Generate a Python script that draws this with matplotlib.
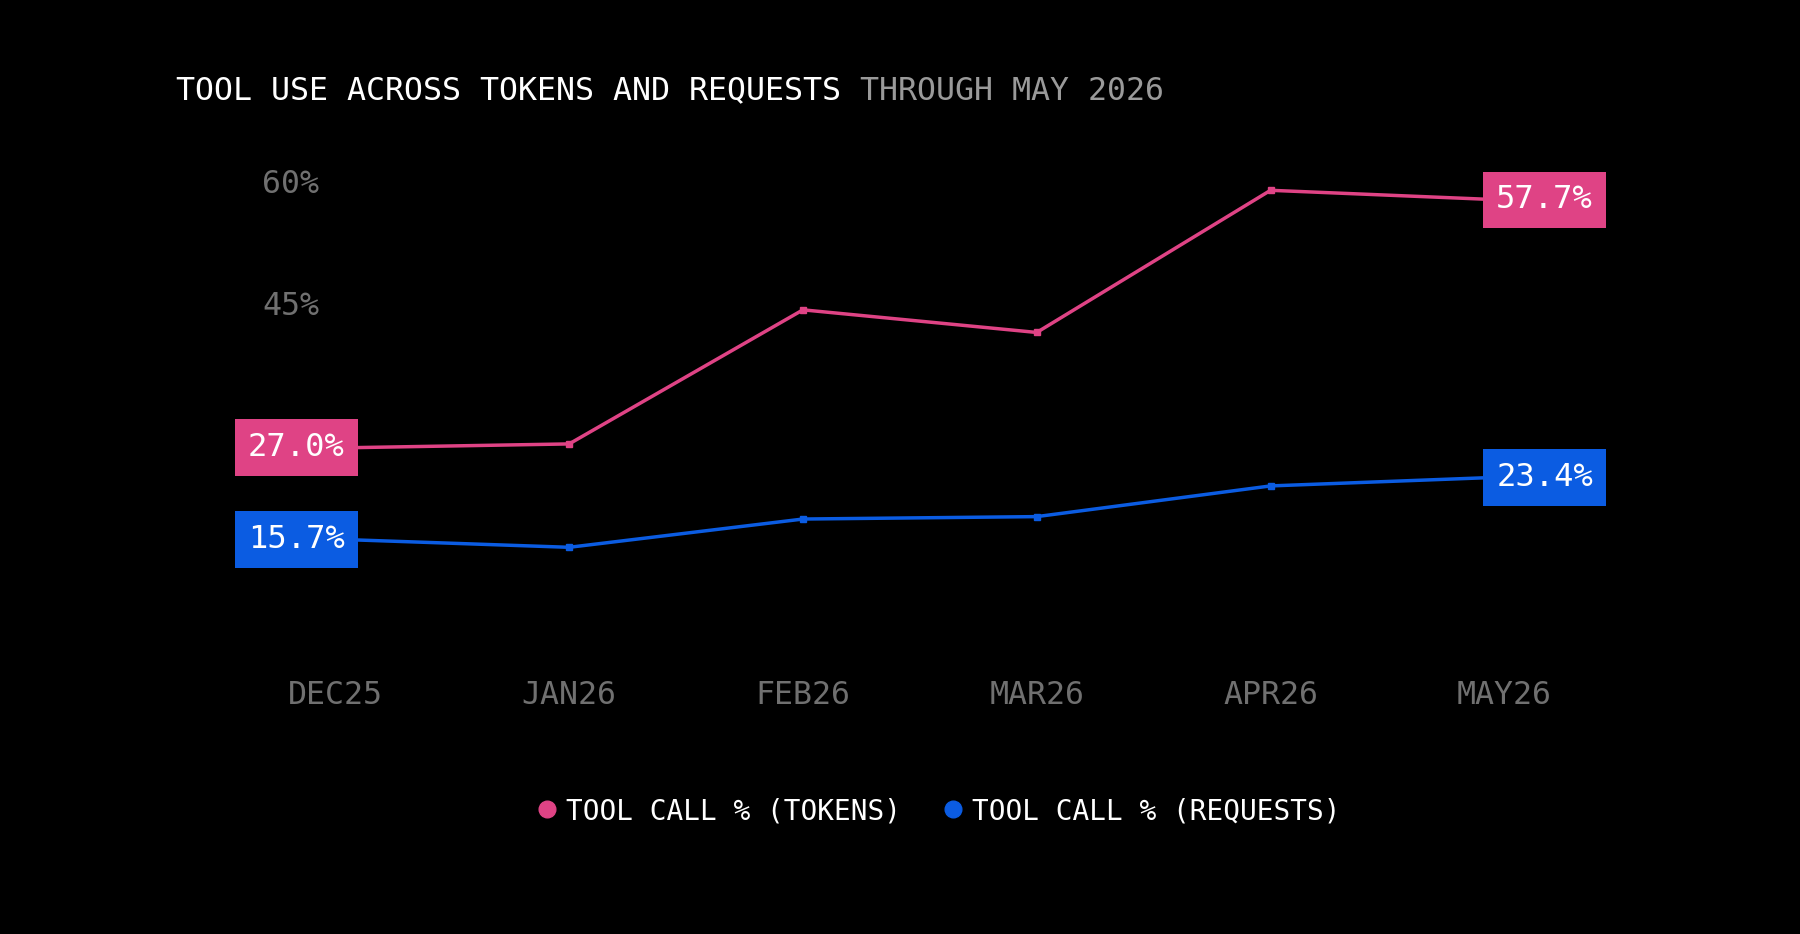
import numpy as np
from matplotlib import pyplot as plt
from matplotlib.lines import Line2D

months = ['DEC25', 'JAN26', 'FEB26', 'MAR26', 'APR26', 'MAY26']
tokens = [27.0, 27.5, 44.1, 41.3, 58.9, 57.7]
requests = [15.7, 14.7, 18.2, 18.5, 22.3, 23.4]
yticks = [45, 60]

pink = '#DF4385'
blue = '#0B5CE2'
grey = '#707070'
mono = 'DejaVu Sans Mono'

plt.rcParams['font.family'] = mono

fig = plt.figure(figsize=(18, 9.34), dpi=100, facecolor='black')
ax = fig.add_axes([0.1772, 0.2869, 0.7365, 0.5621])
ax.set_facecolor('black')

x = np.arange(len(months))
ax.plot(x, tokens, color=pink, lw=2.5, marker='s', ms=4.5, zorder=2)
ax.plot(x, requests, color=blue, lw=2.5, marker='s', ms=4.5, zorder=2)

ax.set_xlim(-0.07, 5.6)
ax.set_ylim(0, 65)
ax.set_xticks(x)
ax.set_xticklabels(months)
ax.set_yticks(yticks)
ax.set_yticklabels([f'{v}%' for v in yticks])
ax.tick_params(axis='x', length=0, pad=10, labelsize=22.8, labelcolor=grey)
ax.tick_params(axis='y', length=0, pad=0, labelsize=22.8, labelcolor=grey)
for s in ax.spines.values():
    s.set_visible(False)

# end labels
for vals, col in [(tokens, pink), (requests, blue)]:
    for i, dx in [(0, -28), (len(vals) - 1, 29)]:
        ax.annotate(f'{vals[i]:.1f}%', xy=(x[i], vals[i]), xytext=(dx, 0),
                    textcoords='offset points', ha='center', va='center',
                    fontsize=23.1, color='white', zorder=5,
                    bbox=dict(boxstyle='square,pad=0.405', fc=col, ec='none'))

# title in two colours
r = fig.canvas.get_renderer()
ty = 1 - 99.5 / 934
t1 = fig.text(176 / 1800, ty, 'TOOL USE ACROSS TOKENS AND REQUESTS ',
              color='white', fontsize=22.8, va='baseline')
bb = t1.get_window_extent(r)
fig.text(bb.x1 / 1800, ty, 'THROUGH MAY 2026', color='#9A9A9A',
         fontsize=22.8, va='baseline')

handles = [Line2D([], [], ls='none', marker='o', ms=12, color=pink),
           Line2D([], [], ls='none', marker='o', ms=12, color=blue)]
leg = fig.legend(handles, ['TOOL CALL % (TOKENS)', 'TOOL CALL % (REQUESTS)'],
                 loc='center', bbox_to_anchor=(0.5217, 0.1315), ncol=2,
                 frameon=False, fontsize=20, handlelength=0.7,
                 handletextpad=0.35, columnspacing=1.5)
for t in leg.get_texts():
    t.set_color('white')

fig.savefig('out.png', dpi=100, facecolor='black')
